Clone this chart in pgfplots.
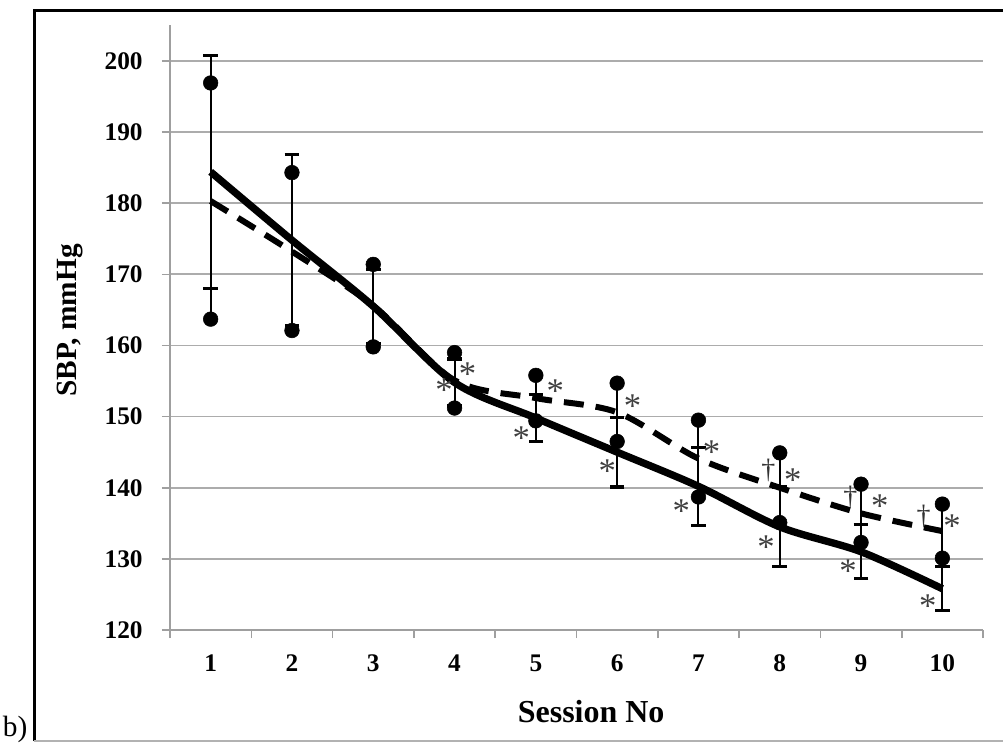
\documentclass[border=0pt]{standalone}
\usepackage{pgfplots}
\pgfplotsset{compat=1.18}
\usepackage{fontspec}
\setmainfont{Liberation Serif}

\pgfplotstableread{
x y e
1 184.4 16.4
2 174.8 12.0
3 165.5 5.2
4 154.8 3.3
5 149.8 3.3
6 145.0 4.9
7 140.2 5.5
8 134.5 5.6
9 131.0 3.8
10 125.8 3.1
}\solidtab

\pgfplotstableread{
x y e
1 180.3 16.6
2 173.2 11.1
3 165.6 5.8
4 155.1 3.9
5 152.6 3.2
6 150.6 4.1
7 144.1 5.4
8 140.0 4.9
9 136.4 4.1
10 133.9 3.8
}\dashtab

\tikzset{
  ast/.style={font=\fontsize{26}{26}\selectfont, text=black!75, inner sep=0pt, yshift=-4.5pt},
  dag/.style={font=\fontsize{21}{21}\selectfont, text=black!80, inner sep=0pt},
}

\begin{document}
\begin{tikzpicture}[x=1pt,y=1pt]
\useasboundingbox (0,0) rectangle (752.25,558);
\draw[line width=2.25pt, black] (25.5,2.25) -- (25.5,549.75) -- (753,549.75);
\draw[line width=1pt, gray!60] (25.5,2.25) -- (753,2.25);
\node[anchor=base west, inner sep=0pt, font=\fontsize{22}{22}\selectfont] at (2,5.5) {b)};
\begin{axis}[
  at={(127.5pt,85.5pt)}, anchor=south west,
  scale only axis, width=609.75pt, height=453.5pt,
  xmin=0.5, xmax=10.5, ymin=120, ymax=205,
  axis x line*=bottom, axis y line*=left,
  axis line style={gray!75, line width=1.5pt},
  xtick={1,...,10},
  minor xtick={0.5,1.5,...,10.5},
  major x tick style={draw=none},
  ytick={120,130,...,200},
  tick align=outside,
  major tick length=6pt, minor tick length=6pt,
  tick style={gray!75, line width=1.2pt},
  ymajorgrids,
  major grid style={gray!65, line width=1.3pt},
  ticklabel style={font=\bfseries\fontsize{19}{21}\selectfont},
  /pgf/number format/assume math mode=true,
  yticklabel style={xshift=-11pt},
  xticklabel style={yshift=-9pt},
  xlabel={Session No},
  ylabel={SBP, mmHg},
  xlabel style={font=\bfseries\fontsize{24}{26}\selectfont, at={(axis description cs:0.5,0)}, anchor=center, yshift=-61.5pt, xshift=11pt},
  ylabel style={font=\bfseries\fontsize{22}{24}\selectfont, at={(axis description cs:0,0.5)}, anchor=center, yshift=75pt, xshift=5.5pt},
  clip=false,
]
\addplot[black, line width=5.5pt, smooth, tension=0.5,
  error bars/.cd, y dir=both, y explicit,
  error bar style={line width=1.5pt, solid},
  error mark=-,
  error mark options={rotate=90, line width=2.5pt, mark size=5.5pt}]
  table[x=x, y=y, y error=e] {\solidtab};
\addplot[black, line width=4.5pt, dash pattern=on 15pt off 9pt, smooth, tension=0.5,
  error bars/.cd, y dir=both, y explicit,
  error bar style={line width=1.5pt, solid},
  error mark=*,
  error mark options={mark size=5.5pt, fill=black, solid}]
  table[x=x, y=y, y error=e] {\dashtab};
\node[ast] at (axis cs:3.87,154.6) {*};
\node[ast] at (axis cs:4.16,156.8) {*};
\node[ast] at (axis cs:4.82,147.8) {*};
\node[ast] at (axis cs:5.24,154.4) {*};
\node[ast] at (axis cs:5.88,143.2) {*};
\node[ast] at (axis cs:6.19,152.3) {*};
\node[ast] at (axis cs:6.79,137.6) {*};
\node[ast] at (axis cs:7.16,145.8) {*};
\node[ast] at (axis cs:7.83,132.5) {*};
\node[ast] at (axis cs:8.16,141.9) {*};
\node[ast] at (axis cs:8.84,129.1) {*};
\node[ast] at (axis cs:9.23,138.3) {*};
\node[ast] at (axis cs:9.82,124.2) {*};
\node[ast] at (axis cs:10.12,135.4) {*};
\node[dag] at (axis cs:7.86,142.5) {†};
\node[dag] at (axis cs:8.87,138.7) {†};
\node[dag] at (axis cs:9.77,136.0) {†};
\end{axis}
\end{tikzpicture}
\end{document}
